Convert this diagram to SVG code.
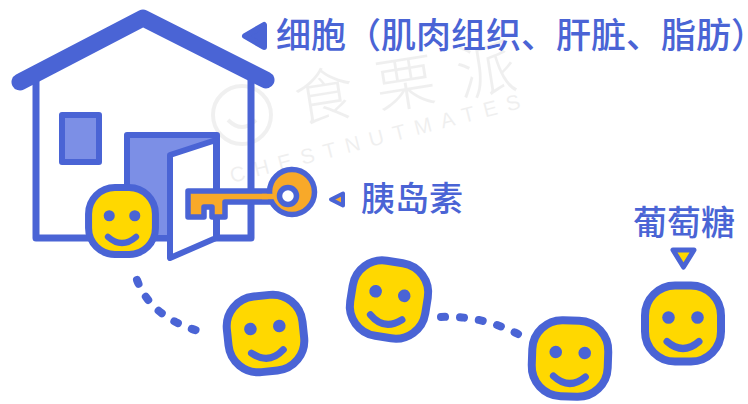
<svg xmlns="http://www.w3.org/2000/svg" xmlns:xlink="http://www.w3.org/1999/xlink" width="748" height="404" viewBox="0 0 748 404">
  <style>
    .ink { stroke: #4A64D5; stroke-linejoin: round; stroke-linecap: round; }
    .skin { fill: #FFD800; stroke: #4A64D5; stroke-width: 8; }
    .feat { fill: #4A64D5; }
    .smile { fill: none; stroke: #4A64D5; stroke-width: 7; stroke-linecap: round; }
    .label { font-family: "Noto Sans CJK SC", "Noto Sans", sans-serif; font-weight: 500; fill: #4A64D5; }
    .dots { fill: none; stroke: #4A64D5; stroke-width: 8; stroke-linecap: round; stroke-dasharray: 4 15; }
    .mark { fill: #000; opacity: 0.06; }
  </style>
  <defs>
    <!-- rounded-square smiley used by every cell -->
    <g id="smiley">
      <rect x="-38" y="-38" width="76" height="76" rx="30" class="skin"/>
      <circle cx="-14.5" cy="-6" r="6.3" class="feat"/>
      <circle cx="14.5" cy="-6" r="6.3" class="feat"/>
      <path d="M-16,18 Q0,32 16,18" class="smile"/>
    </g>
  </defs>

  <rect width="748" height="404" fill="#FFFFFF"/>

  <!-- brand mark, faint, behind the drawing -->
  <g id="brand-mark">
    <circle cx="242" cy="115" r="29" fill="none" stroke="#000" stroke-width="4" opacity="0.06"/>
    <path d="M228,120 Q242,134 256,120" fill="none" stroke="#000" stroke-width="4" opacity="0.06"/>
    <text transform="translate(298,122) rotate(-9)" font-size="60" letter-spacing="22" class="mark" font-family="Noto Sans CJK SC, sans-serif" font-weight="300">食栗派</text>
    <text transform="translate(232,183) rotate(-14.5)" font-size="21" letter-spacing="9.5" class="mark" font-family="Liberation Sans, sans-serif">CHESTNUTMATES</text>
  </g>

  <!-- house: the cell -->
  <g id="cell-house">
    <path d="M36,76 V238 H251 V76" class="ink" fill="none" stroke-width="7"/>
    <path d="M20,82 L143,18 L266,80" class="ink" fill="none" stroke-width="17"/>
    <rect x="62" y="115" width="37" height="47" class="ink" fill="#7C8FE6" stroke-width="6"/>
    <rect x="127" y="135" width="90" height="103" class="ink" fill="#7C8FE6" stroke-width="6"/>
    <path d="M170,155 L216,140 L216,238 L170,258 Z" class="ink" fill="#FFFFFF" stroke-width="6"/>
  </g>

  <!-- key: insulin -->
  <g id="insulin-key">
    <path d="M188,191 H274 V202 H225 V217 H212 V207 H204 V217 H188 Z" class="ink" fill="#F8A929" stroke-width="5.5"/>
    <circle cx="292" cy="192" r="22.5" class="ink" fill="#F8A929" stroke-width="5.5"/>
    <rect x="262" y="193.8" width="17" height="5.4" fill="#F8A929"/>
    <circle cx="288" cy="196" r="8.5" class="ink" fill="#FFFFFF" stroke-width="5.5"/>
  </g>

  <!-- connectors -->
  <g id="connectors">
    <path d="M137,280 Q152,320 206,333" class="dots"/>
    <path d="M441,317 Q481,315 518,334" class="dots"/>
  </g>

  <!-- glucose cells -->
  <g id="glucose-1"><use href="#smiley" transform="translate(122,221) scale(0.88)"/></g>
  <g id="glucose-2"><use href="#smiley" transform="translate(265.5,333.5) rotate(-6)"/></g>
  <g id="glucose-3"><use href="#smiley" transform="translate(389,299.5) rotate(9)"/></g>
  <g id="glucose-4"><use href="#smiley" transform="translate(570,358.5) rotate(2)"/></g>
  <g id="glucose-5"><use href="#smiley" transform="translate(683,323.5)"/></g>

  <!-- labels -->
  <g id="label-cell">
    <polygon points="245,36 264,25 264,47" class="ink" fill="#4A64D5" stroke-width="6"/>
    <text x="276" y="48" font-size="35" class="label">细胞（肌肉组织、肝脏、脂肪<tspan letter-spacing="-21">）</tspan></text>
  </g>
  <g id="label-insulin">
    <polygon points="331,199.5 343,193.5 343,205.5" class="ink" fill="#F8A929" stroke-width="4"/>
    <text x="361" y="211" font-size="34" class="label">胰岛素</text>
  </g>
  <g id="label-glucose">
    <text x="633" y="235" font-size="34" class="label">葡萄糖</text>
    <polygon points="673,250 694,250 683.5,267" class="ink" fill="#FFD800" stroke-width="5"/>
  </g>
</svg>
